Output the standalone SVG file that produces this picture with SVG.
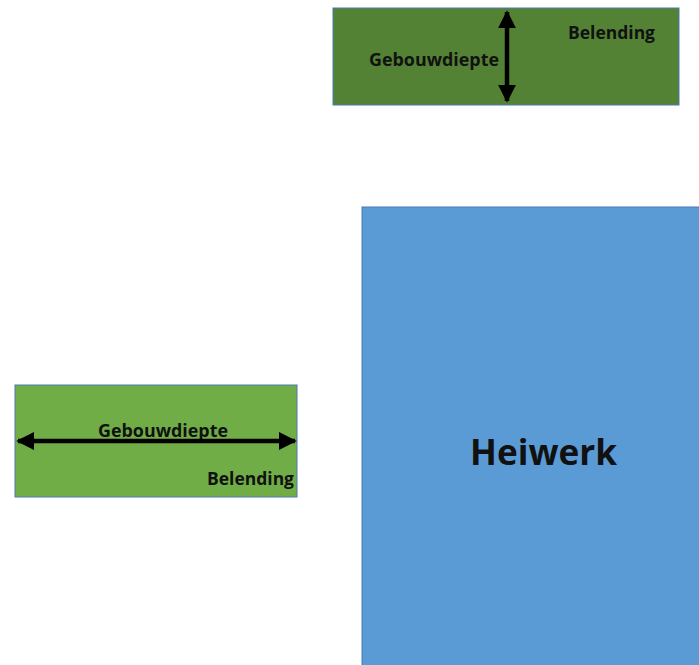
<svg xmlns="http://www.w3.org/2000/svg" width="699" height="665" viewBox="0 0 699 665">
<style>
.t{font-family:"Open Sans","Liberation Sans",sans-serif;font-weight:bold;fill:#111}
.s{font-size:17px}
.r{stroke:#4a7bb5;stroke-width:1}
.a{stroke:#000;stroke-width:4.5;fill:none}
</style>
<defs>
<marker id="ah" viewBox="0 0 10 10" refX="9" refY="5" markerWidth="4" markerHeight="4" orient="auto-start-reverse" markerUnits="strokeWidth">
<path d="M0,0 L10,5 L0,10 z" fill="#000"/>
</marker>
</defs>
<rect width="699" height="665" fill="#fff"/>
<g id="belending-top">
<rect class="r" x="333" y="8" width="346" height="97" fill="#548235"/>
<text class="t s" x="369" y="66" textLength="130" lengthAdjust="spacingAndGlyphs">Gebouwdiepte</text>
<text class="t s" x="568" y="39" textLength="87" lengthAdjust="spacingAndGlyphs">Belending</text>
</g>
<g id="belending-left">
<rect class="r" x="15" y="385" width="282" height="112" fill="#70ad47"/>
<text class="t s" x="98" y="437" textLength="130" lengthAdjust="spacingAndGlyphs">Gebouwdiepte</text>
<text class="t s" x="207" y="485" textLength="87" lengthAdjust="spacingAndGlyphs">Belending</text>
</g>
<g id="heiwerk">
<rect class="r" x="362" y="207" width="340" height="462" fill="#5b9bd5"/>
<text class="t" x="470" y="465" font-size="35" textLength="147" lengthAdjust="spacingAndGlyphs">Heiwerk</text>
</g>
<g id="connectors">
<line class="a" x1="507" y1="12" x2="507" y2="101" marker-start="url(#ah)" marker-end="url(#ah)"/>
<line class="a" x1="18" y1="441" x2="295" y2="441" marker-start="url(#ah)" marker-end="url(#ah)"/>
</g>
</svg>
